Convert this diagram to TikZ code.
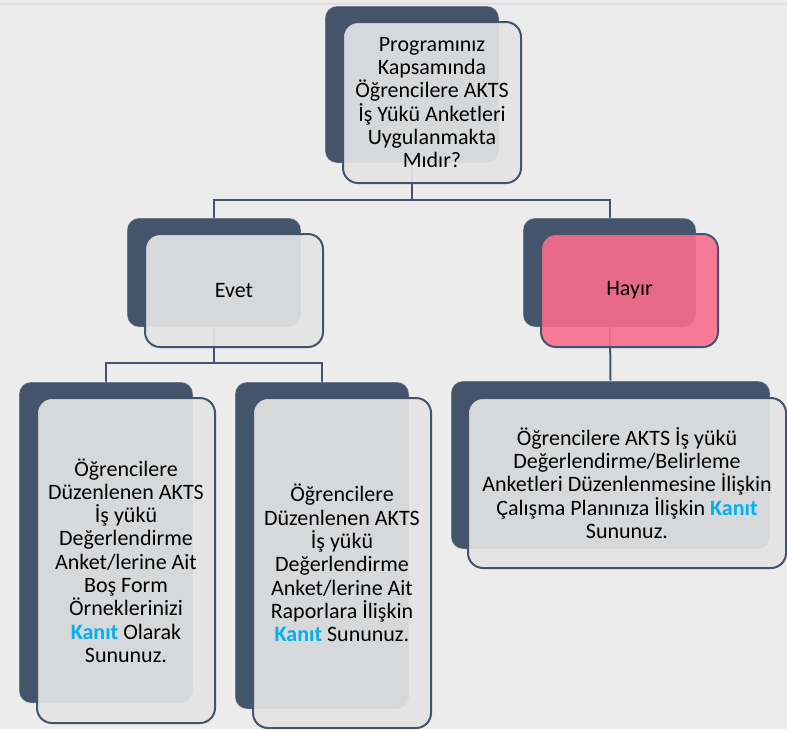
\documentclass[tikz,border=0pt]{standalone}
\usepackage{fontspec}
\setmainfont{Carlito}
\pgfdeclarelayer{bg}
\pgfsetlayers{bg,main}
\definecolor{bgcol}{HTML}{ECECEC}
\definecolor{topline}{HTML}{E4DCE4}
\definecolor{navy}{HTML}{44546A}
\definecolor{lightfill}{HTML}{E4E4E4}
\definecolor{pinkfill}{HTML}{F96E8D}
\definecolor{kanit}{HTML}{00B0F0}
\newcommand{\kanit}{\textcolor{kanit}{\textbf{Kanıt}}}
\tikzset{
  darkbox/.style={rectangle, rounded corners=12pt, fill=navy, inner sep=0pt, draw=white, draw opacity=0.35, line width=1pt},
  lightbox/.style={rectangle, rounded corners=15pt, fill=lightfill, fill opacity=0.92, text opacity=1, draw=navy, line width=2pt, inner sep=0pt, align=center, font=\fontsize{22}{23.3}\selectfont, text=black},
  pinkbox/.style={lightbox, fill=pinkfill, fill opacity=0.9},
  conn/.style={draw=navy, line width=2pt}
}
\begin{document}
\begin{tikzpicture}[x=1pt,y=-1pt]
\useasboundingbox (0,0) rectangle (787,729);
\begin{pgfonlayer}{bg}
  \fill[bgcol] (0,0) rectangle (787,729);
  \draw[topline, line width=2pt] (0,4) -- (787,4);
\end{pgfonlayer}
% top
\node[darkbox, minimum width=174pt, minimum height=157pt] (d0) at (412,84.5) {};
\node[lightbox, minimum width=178pt, minimum height=161pt] (l0) at (432,102.5)
  {Programınız\\Kapsamında\\Öğrencilere AKTS\\İş Yükü Anketleri\\Uygulanmakta\\Mıdır?};
% Evet
\node[darkbox, minimum width=174pt, minimum height=109pt] (d1) at (214,272.5) {};
\node[lightbox, minimum width=178pt, minimum height=113pt] (l1) at (234,290.5) {Evet};
% Hayir
\node[darkbox, minimum width=173pt, minimum height=109pt] (d2) at (609.5,272.5) {};
\node[pinkbox, minimum width=177pt, minimum height=113pt] (l2) at (629.5,290.5) {Hayır};
% bottom left
\node[darkbox, minimum width=174pt, minimum height=321pt] (d3) at (106,542.5) {};
\node[lightbox, minimum width=178pt, minimum height=325pt] (l3) at (126,560.5)
  {Öğrencilere\\Düzenlenen AKTS\\İş yükü\\Değerlendirme\\Anket/lerine Ait\\Boş Form\\Örneklerinizi\\\kanit{} Olarak\\Sununuz.};
% bottom middle
\node[darkbox, minimum width=174pt, minimum height=327pt] (d4) at (322,545.5) {};
\node[lightbox, minimum width=178pt, minimum height=330pt] (l4) at (342,563)
  {Öğrencilere\\Düzenlenen AKTS\\İş yükü\\Değerlendirme\\Anket/lerine Ait\\Raporlara İlişkin\\\kanit{} Sununuz.};
% bottom right
\node[darkbox, minimum width=319pt, minimum height=168pt] (d5) at (610.5,465) {};
\node[lightbox, minimum width=318pt, minimum height=170pt] (l5) at (627,483)
  {Öğrencilere AKTS İş yükü\\Değerlendirme/Belirleme\\Anketleri Düzenlenmesine İlişkin\\Çalışma Planınıza İlişkin \kanit\\Sununuz.};
\begin{pgfonlayer}{bg}
  \coordinate (j0) at (d0.center |- 0,200);
  \coordinate (j1) at (d1.center |- 0,363);
  \draw[conn] (d0.center) -- (j0);
  \draw[conn] (j0) -| (d1.north);
  \draw[conn] (j0) -| (d2.north);
  \draw[conn] (d1.center) -- (j1);
  \draw[conn] (j1) -| (d3.north);
  \draw[conn] (j1) -| (d4.north);
  \draw[conn] (d2.center) -- (d5.north);
\end{pgfonlayer}
\end{tikzpicture}
\end{document}
